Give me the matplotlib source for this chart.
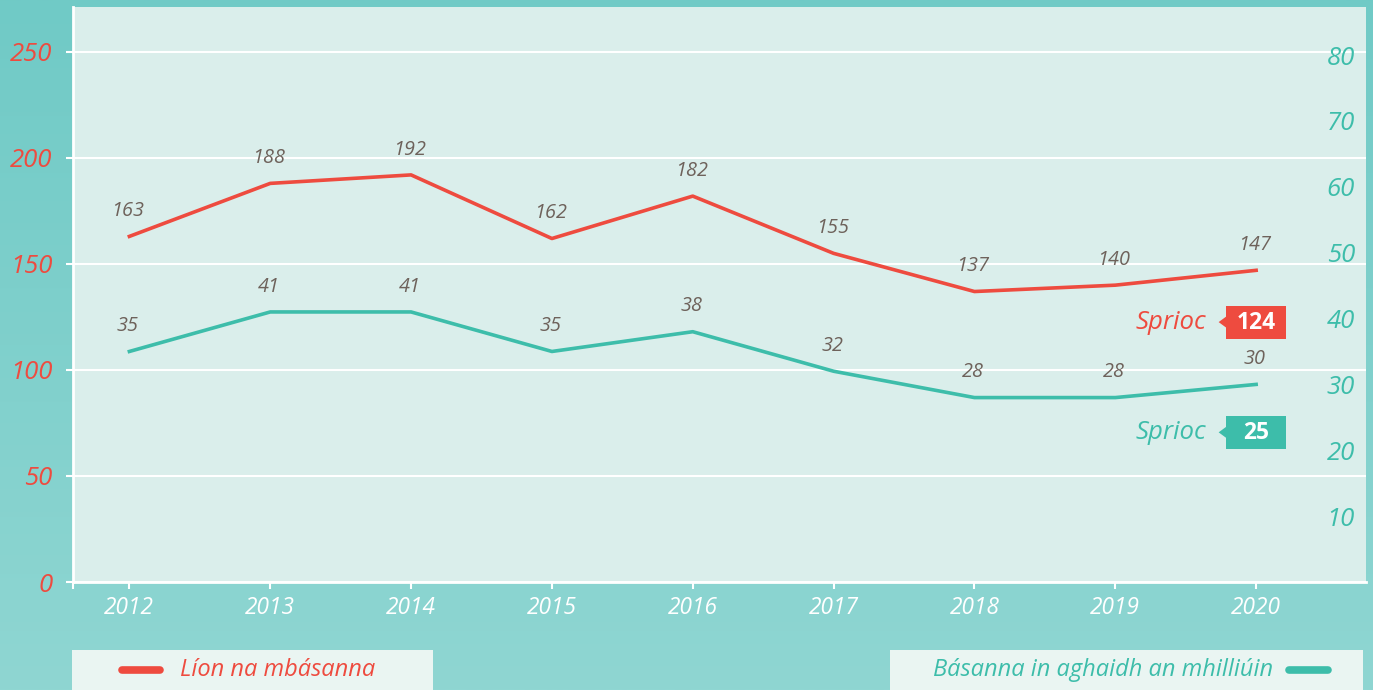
import numpy as np
import matplotlib
matplotlib.use("Agg")
import matplotlib.pyplot as plt
import matplotlib.transforms as mtransforms
from matplotlib.patches import Rectangle, Polygon
from matplotlib.lines import Line2D

# data
years = ["2012", "2013", "2014", "2015", "2016", "2017", "2018", "2019", "2020"]
deaths = [163, 188, 192, 162, 182, 155, 137, 140, 147]
per_million = [35, 41, 41, 35, 38, 32, 28, 28, 30]
target_deaths = 124
target_per_million = 25
left_ticks = [0, 50, 100, 150, 200, 250]
right_ticks = [10, 20, 30, 40, 50, 60, 70, 80]

RED = "#EE4B3F"
TEAL = "#3DBDAA"
LABEL = "#6E625B"
PANEL = "#DAEEEB"
FONT = "Open Sans"

plt.rcParams["font.family"] = [FONT, "DejaVu Sans"]

fig = plt.figure(figsize=(13.73, 6.9), dpi=100)

# background gradient
bg = fig.add_axes([0, 0, 1, 1], zorder=-10)
grad = np.linspace(0, 1, 256).reshape(-1, 1)
top = np.array([0x70, 0xCA, 0xC6]) / 255
bot = np.array([0x8F, 0xD6, 0xD2]) / 255
img = top * (1 - grad[..., None]) + bot * grad[..., None]
bg.imshow(img, aspect="auto", extent=[0, 1, 0, 1])
bg.axis("off")

ax = fig.add_axes([0.0532, 0.1565, 0.9417, 0.8334])
ax.set_facecolor(PANEL)
x = np.arange(len(years))

ax.set_xlim(-0.4, 8.78)
ax.set_ylim(0, 271.2)
for s in ["top", "right"]:
    ax.spines[s].set_visible(False)
for s in ["left", "bottom"]:
    ax.spines[s].set_color("white")
    ax.spines[s].set_linewidth(2)

ax.set_yticks(left_ticks)
ax.set_yticklabels([str(t) for t in left_ticks])
ax.tick_params(axis="y", colors="white", length=5, width=1.5, pad=10,
               labelcolor=RED, labelsize=18.5)
for lab in ax.get_yticklabels():
    lab.set_fontstyle("italic")
ax.yaxis.grid(True, color="white", linewidth=1.5)
ax.set_axisbelow(True)

ax.set_xticks(x)
ax.set_xticklabels(years)
ax.set_xticks([-0.4], minor=True)
ax.tick_params(axis="x", which="both", colors="white", length=5, width=1.5,
               pad=5, labelcolor="white", labelsize=16.3)
for lab in ax.get_xticklabels():
    lab.set_fontstyle("italic")

ax.plot(x, deaths, color=RED, linewidth=2.6, zorder=3)
for xi, v in zip(x, deaths):
    ax.annotate(str(v), (xi, v), xytext=(-1, 11), textcoords="offset points",
                ha="center", va="bottom", color=LABEL, fontsize=14.3,
                fontstyle="italic")

ax2 = ax.twinx()
ax2.set_ylim(0, 87.3)
for s in ax2.spines.values():
    s.set_visible(False)
ax2.set_yticks(right_ticks)
ax2.set_yticklabels([str(t) for t in right_ticks])
ax2.tick_params(axis="y", length=0, pad=-8, labelcolor=TEAL, labelsize=18.5)
for lab in ax2.get_yticklabels():
    lab.set_ha("right")
    lab.set_fontstyle("italic")

ax2.plot(x, per_million, color=TEAL, linewidth=2.6, zorder=3)
for xi, v in zip(x, per_million):
    ax2.annotate(str(v), (xi, v), xytext=(-1, 11), textcoords="offset points",
                 ha="center", va="bottom", color=LABEL, fontsize=14.3,
                 fontstyle="italic")


def target_tag(axis, xval, yval, dy, value, color):
    tr = fig.dpi_scale_trans + mtransforms.ScaledTranslation(
        xval, yval, axis.transData)
    axis.add_patch(Rectangle((-0.30, dy - 0.165), 0.60, 0.33, transform=tr,
                             facecolor=color, edgecolor="none", zorder=5,
                             clip_on=False))
    axis.add_patch(Polygon([(-0.30, dy - 0.055), (-0.375, dy),
                            (-0.30, dy + 0.055)], closed=True, transform=tr,
                           facecolor=color, edgecolor="none", zorder=5,
                           clip_on=False))
    axis.text(0, dy - 0.01, str(value), transform=tr, ha="center", va="center",
              color="white", fontsize=16.5, fontweight="bold", zorder=6)
    axis.text(-0.495, dy, "Sprioc", transform=tr, ha="right", va="center",
              color=color, fontsize=18.5, fontstyle="italic", zorder=6)


target_tag(ax, len(years) - 1, target_deaths, -0.03, target_deaths, RED)
target_tag(ax2, len(years) - 1, target_per_million, -0.15,
           target_per_million, TEAL)

# legend boxes along the bottom
W, H = 1373.0, 690.0
fig.patches.append(Rectangle((72 / W, 0), (433 - 72) / W, 40 / H,
                             transform=fig.transFigure, facecolor="#EAF5F2",
                             edgecolor="none"))
fig.patches.append(Rectangle((890 / W, 0), (1363 - 890) / W, 40 / H,
                             transform=fig.transFigure, facecolor="#EAF5F2",
                             edgecolor="none"))
fig.lines.append(Line2D([122 / W, 160 / W], [20 / H, 20 / H],
                        transform=fig.transFigure, color=RED, linewidth=5.5,
                        solid_capstyle="round"))
fig.lines.append(Line2D([1289 / W, 1328 / W], [20 / H, 20 / H],
                        transform=fig.transFigure, color=TEAL, linewidth=5.5,
                        solid_capstyle="round"))
fig.text(180 / W, 20 / H, "Líon na mbásanna", ha="left", va="center",
         color=RED, fontsize=17, fontstyle="italic")
fig.text(1273 / W, 20 / H, "Básanna in aghaidh an mhilliúin", ha="right",
         va="center", color=TEAL, fontsize=17, fontstyle="italic")

fig.savefig("out.png", dpi=100)
